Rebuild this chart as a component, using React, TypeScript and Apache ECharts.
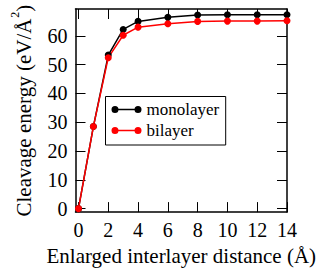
import React, { useEffect, useRef } from "react";
import * as echarts from "echarts";

const distances = [0, 1, 2, 3, 4, 6, 8, 10, 12, 14];
const monolayer = [0, 28.5, 53.3, 62.2, 65.0, 66.4, 67.2, 67.3, 67.3, 67.3];
const bilayer = [0, 28.5, 52.4, 60.2, 63.0, 64.2, 65.0, 65.1, 65.1, 65.2];
const xMajor = [0, 2, 4, 6, 8, 10, 12, 14];
const yMajor = [0, 10, 20, 30, 40, 50, 60];

const legendIcon =
  "path://M0,3.5 A3.5,3.5 0 1 1 7,3.5 A3.5,3.5 0 1 1 0,3.5 Z M23,3.5 A3.5,3.5 0 1 1 30,3.5 A3.5,3.5 0 1 1 23,3.5 Z M3.5,2.75 H26.5 V4.25 H3.5 Z";

export default function App() {
  const ref = useRef<HTMLDivElement>(null);
  useEffect(() => {
    if (!ref.current) return;
    const chart = echarts.init(ref.current, null, { renderer: "svg" });
    const option: any = {
      animation: false,
      backgroundColor: "#fff",
      grid: { left: 75.5, right: 34, top: 5.5, bottom: 54 },
      legend: {
        left: 105.5,
        top: 96.5,
        orient: "vertical",
        borderColor: "#000",
        borderWidth: 1,
        padding: [4.5, 6.5, 6, 6],
        itemWidth: 30,
        itemHeight: 7,
        itemGap: 4,
        icon: legendIcon,
        textStyle: { fontFamily: "serif", fontSize: 17, color: "#000" },
        data: ["monolayer", "bilayer"],
      },
      xAxis: [
        {
          type: "value", min: -0.2, max: 14, position: "bottom",
          axisLine: { onZero: false, lineStyle: { color: "#000", width: 1.5 } },
          axisTick: { show: true, inside: true, length: 10, customValues: xMajor },
          axisLabel: { customValues: xMajor, fontFamily: "serif", fontSize: 20, color: "#000" },
          splitLine: { show: false },
          name: "Enlarged interlayer distance (Å)",
          nameLocation: "middle",
          nameGap: 30,
          nameTextStyle: { fontFamily: "serif", fontSize: 21, color: "#000" },
        },
        {
          type: "value", min: -0.2, max: 14, position: "top",
          axisLine: { onZero: false, lineStyle: { color: "#000", width: 1.5 } },
          axisTick: { show: true, inside: true, length: 10, customValues: xMajor },
          axisLabel: { customValues: xMajor, fontSize: 1, color: "rgba(0,0,0,0)" },
          splitLine: { show: false },
        },
      ],
      yAxis: [
        {
          type: "value", min: -1.2, max: 69.3, position: "left",
          axisLine: { show: true, onZero: false, lineStyle: { color: "#000", width: 1.5 } },
          axisTick: { show: true, inside: true, length: 10, customValues: yMajor },
          axisLabel: { customValues: yMajor, fontFamily: "serif", fontSize: 20, color: "#000" },
          splitLine: { show: false },
          name: "{a|Cleavage energy (eV/Å}{s|2}{a|)}",
          nameLocation: "middle",
          nameGap: 37,
          nameTextStyle: {
            fontFamily: "serif",
            fontSize: 21,
            color: "#000",
            rich: {
              a: { fontFamily: "serif", fontSize: 21, color: "#000" },
              s: { fontFamily: "serif", fontSize: 12, color: "#000", padding: [0, 0, 18, 1] },
            },
          },
        },
        {
          type: "value", min: -1.2, max: 69.3, position: "right",
          axisLine: { show: true, onZero: false, lineStyle: { color: "#000", width: 1.5 } },
          axisTick: { show: true, inside: true, length: 10, customValues: yMajor },
          axisLabel: { customValues: yMajor, fontSize: 1, color: "rgba(0,0,0,0)" },
          splitLine: { show: false },
        },
      ],
      series: [
        {
          name: "monolayer",
          type: "line",
          data: distances.map((d, i) => [d, monolayer[i]]),
          symbol: "circle",
          symbolSize: 7,
          itemStyle: { color: "#000" },
          lineStyle: { color: "#000", width: 1.5 },
        },
        {
          name: "bilayer",
          type: "line",
          data: distances.map((d, i) => [d, bilayer[i]]),
          symbol: "circle",
          symbolSize: 7,
          itemStyle: { color: "#ff0000" },
          lineStyle: { color: "#ff0000", width: 1.5 },
        },
      ],
    };
    chart.setOption(option);
    return () => chart.dispose();
  }, []);
  return <div ref={ref} style={{ width: 321, height: 271, position: "absolute", left: 0, top: 0 }} />;
}
